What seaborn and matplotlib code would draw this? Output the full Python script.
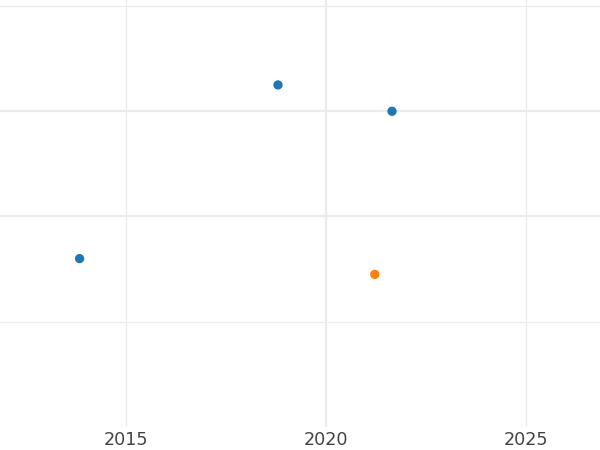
import numpy as np
import pandas as pd
import matplotlib
matplotlib.use("Agg")
import matplotlib.pyplot as plt
import seaborn as sns

years = [2013.84, 2018.8, 2021.65, 2021.22]
values = [0.60, 2.25, 2.0, 0.45]
groups = ["a", "a", "a", "b"]
colors = {"a": "#1f77b4", "b": "#ff7f0e"}

df = pd.DataFrame({"year": years, "value": values, "group": groups})

sns.set_style("white")
fig = plt.figure(figsize=(6, 4.5), dpi=100)
ax = fig.add_axes([0, 1 - 427 / 450, 1, 427 / 450])

sns.scatterplot(data=df, x="year", y="value", hue="group", palette=colors,
                s=45, linewidth=0, legend=False, ax=ax, zorder=3)

ax.set_xlim(2011.85, 2026.85)
ax.set_ylim(-1.0, 3.057)

ax.set_xticks([2020])
ax.set_xticks([2015, 2025], minor=True)
ax.set_yticks([1, 2])
ax.set_yticks([0, 3], minor=True)
ax.set_xticklabels(["2020"])
ax.set_xticklabels(["2015", "2025"], minor=True)
ax.set_yticklabels([])
ax.set_yticklabels([], minor=True)

ax.grid(True, which="major", color="#ebebeb", linewidth=1.6)
ax.grid(True, which="minor", color="#ebebeb", linewidth=0.9)
ax.set_axisbelow(True)
ax.tick_params(axis="both", which="both", length=0, labelsize=12.7,
               labelcolor="#444444", pad=3)
ax.set_xlabel("")
ax.set_ylabel("")
for s in ax.spines.values():
    s.set_visible(False)

fig.savefig("out.png", dpi=100)
